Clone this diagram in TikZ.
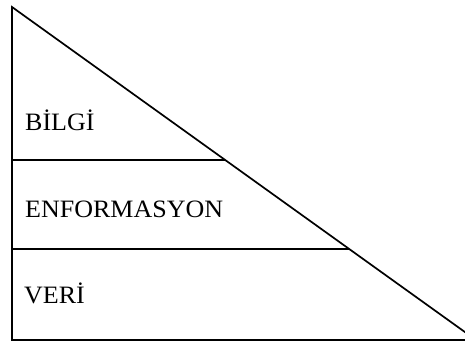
\documentclass[tikz,border=0pt]{standalone}
\usepackage{fontspec}
\setmainfont{Liberation Serif}
\begin{document}
\begin{tikzpicture}[x=1pt,y=1pt,
  edge/.style={line width=1.7pt,black},
  level/.style={anchor=base west,inner sep=0pt,font=\fontsize{25}{30}\selectfont,xscale=1.04,transform shape}]
\useasboundingbox (0,0) rectangle (465,342);
\clip (0,0) rectangle (465,342);
% corners of the pyramid triangle
\coordinate (top) at (12,335);
\coordinate (bl) at (12,2);
\coordinate (br) at (476,2);
\draw[edge,line join=miter] (br) -- (bl) -- (top) -- cycle;
% level separators, ending on the slanted side
\coordinate (s1l) at (12,182);
\coordinate (s2l) at (12,93);
\path (top) -- (br) coordinate[pos=0.4595] (s1r);
\path (top) -- (br) coordinate[pos=0.7267] (s2r);
\draw[edge] (s1l) -- (s1r);
\draw[edge] (s2l) -- (s2r);
% level labels
\node[level] (bilgi) at (25,211) {BİLGİ};
\node[level] (enf) at (25,124) {ENFORMASYON};
\node[level] (veri) at (24,38) {VERİ};
\end{tikzpicture}
\end{document}
